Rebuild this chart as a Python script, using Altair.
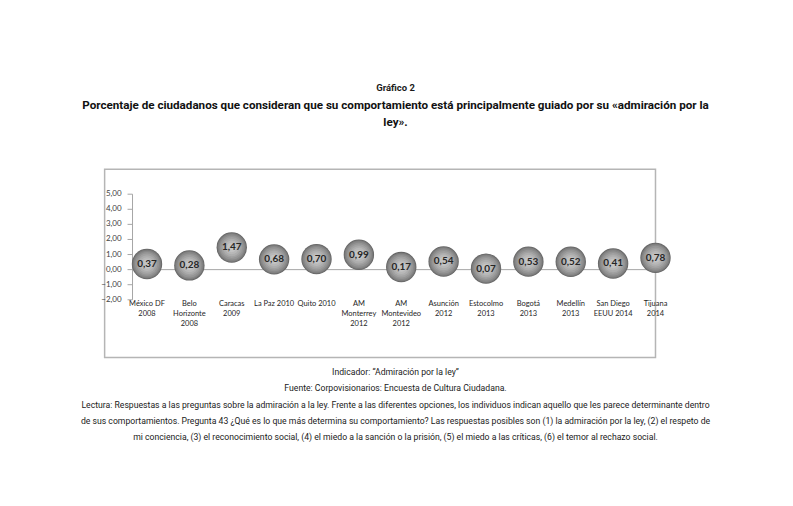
import altair as alt
import pandas as pd

# ---------------- data ----------------
cities = [
    "México DF\n2008", "Belo\nHorizonte\n2008", "Caracas\n2009", "La Paz 2010",
    "Quito 2010", "AM\nMonterrey\n2012", "AM\nMontevideo\n2012", "Asunción\n2012",
    "Estocolmo\n2013", "Bogotá\n2013", "Medellín\n2013", "San Diego\nEEUU 2014",
    "Tijuana\n2014",
]
values = [0.37, 0.28, 1.47, 0.68, 0.70, 0.99, 0.17, 0.54, 0.07, 0.53, 0.52, 0.41, 0.78]
y_ticks = [-2, -1, 0, 1, 2, 3, 4, 5]

title_small = "Gráfico 2"
title_lines = [
    "Porcentaje de ciudadanos que consideran que su comportamiento está principalmente guiado por su «admiración por la",
    "ley».",
]
footer_lines = [
    "Indicador: “Admiración por la ley”",
    "Fuente: Corpovisionarios: Encuesta de Cultura Ciudadana.",
    "Lectura: Respuestas a las preguntas sobre la admiración a la ley. Frente a las diferentes opciones, los individuos indican aquello que les parece determinante dentro",
    "de sus comportamientos. Pregunta 43 ¿Qué es lo que más determina su comportamiento? Las respuestas posibles son (1) la admiración por la ley, (2) el respeto de",
    "mi conciencia, (3) el reconocimiento social, (4) el miedo a la sanción o la prisión, (5) el miedo a las críticas, (6) el temor al rechazo social.",
]

df = pd.DataFrame({"city": cities, "value": values})
df_ticks = pd.DataFrame({"v": y_ticks})

# ---------------- styling ----------------
W, H = 553, 189
TEXT_FONT = "Roboto, 'Liberation Sans', sans-serif"
LABEL_FONT = "Lato, 'Open Sans', sans-serif"

xscale = alt.Scale(domain=cities, paddingInner=0, paddingOuter=0.347, align=1)
yscale = alt.Scale(domain=[-5.83, 6.65], nice=False, zero=False)

X = alt.X("city:N", scale=xscale, axis=None, sort=cities)
Y = alt.Y("value:Q", scale=yscale, axis=None)

# y axis (drawn manually so that it sits inside the chart frame)
axis_line = alt.Chart(df_ticks).mark_rule(color="#a6a6a6", strokeWidth=1).encode(
    x=alt.value(28),
    y=alt.Y("min(v):Q", scale=yscale, axis=None),
    y2="max(v):Q",
)
tick_marks = alt.Chart(df_ticks).mark_rule(color="#a6a6a6", strokeWidth=1).encode(
    x=alt.value(23), x2=alt.value(28), y=alt.Y("v:Q", scale=yscale, axis=None)
)
tick_labels = alt.Chart(df_ticks).transform_calculate(
    lab="replace(format(datum.v, '.2f'), '.', ',')"
).mark_text(align="right", baseline="middle", font=LABEL_FONT, fontSize=8, color="#404040").encode(
    x=alt.value(17), y=alt.Y("v:Q", scale=yscale, axis=None), text="lab:N"
)

zero_line = alt.Chart(df_ticks).transform_filter("datum.v == 0").mark_rule(
    color="#a6a6a6", strokeWidth=1
).encode(x=alt.value(28), x2=alt.value(W), y=alt.Y("v:Q", scale=yscale, axis=None))

# sphere-like bubbles: concentric discs from dark rim to light centre
shades = [
    (930, "#646464"), (840, "#7a7a7a"), (720, "#888888"), (580, "#959595"),
    (440, "#a1a1a1"), (310, "#adadad"), (190, "#b8b8b8"), (90, "#c3c3c3"),
]
bubble_layers = []
for sz, col in shades:
    bubble_layers.append(
        alt.Chart(df).mark_point(
            shape="circle", filled=True, fill=col, size=sz, opacity=1, fillOpacity=1,
            strokeWidth=0,
        ).encode(x=X, y=Y)
    )

bubble_text = alt.Chart(df).transform_calculate(
    lab="replace(format(datum.value, '.2f'), '.', ',')"
).mark_text(font=LABEL_FONT, fontSize=10, fontWeight="bold", color="#262626", baseline="middle").encode(
    x=X, y=Y, text="lab:N"
)

city_labels = alt.Chart(df).mark_text(
    font=LABEL_FONT, fontSize=7.5, color="#262626", baseline="middle", lineBreak="\n",
    lineHeight=10, dy=4,
).encode(x=X, y=alt.datum(-2, scale=yscale), text="city:N")


def text_layer(txt, x, y, size, weight="normal", color="#1a1a1a", font=TEXT_FONT):
    return alt.Chart(pd.DataFrame({"t": [txt]})).mark_text(
        font=font, fontSize=size, fontWeight=weight, color=color,
        align="center", baseline="middle",
    ).encode(x=alt.value(x), y=alt.value(y), text="t:N")


CX = 292
annotations = [
    text_layer(title_small, CX, -82, 9.5, "bold"),
    text_layer(title_lines[0], CX, -65, 11.7, "bold", "#111111"),
    text_layer(title_lines[1], CX, -47, 11.7, "bold", "#111111"),
    text_layer(footer_lines[0], CX, 203, 8.7),
    text_layer(footer_lines[1], CX, 220, 8.7),
    text_layer(footer_lines[2], CX, 237, 8.7),
    text_layer(footer_lines[3], CX, 253, 8.7),
    text_layer(footer_lines[4], CX, 269, 8.7),
]

chart = alt.layer(
    axis_line, tick_marks, tick_labels, zero_line, *bubble_layers, bubble_text, city_labels,
    *annotations,
).properties(
    width=W, height=H,
    autosize=alt.AutoSizeParams(type="none"),
    padding={"left": 97, "top": 161, "right": 130, "bottom": 130},
    background="white",
).configure_view(
    stroke="#b5b5b5", strokeWidth=1.5
)

chart.save("out.html", embed_options={"renderer": "svg", "actions": False})
